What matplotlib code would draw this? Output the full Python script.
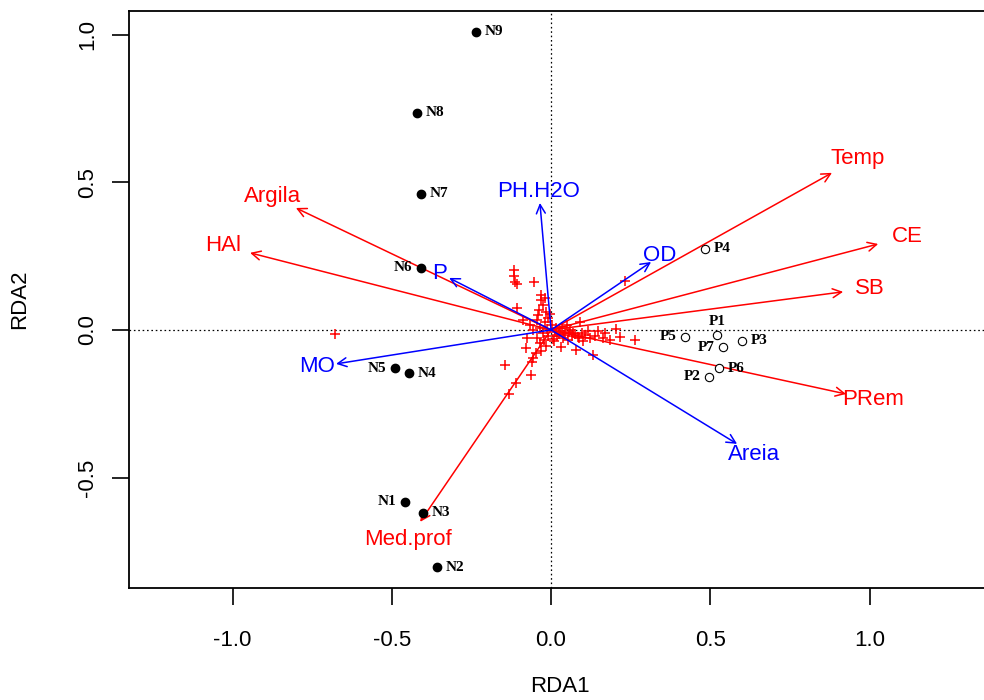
import numpy as np
import matplotlib
matplotlib.use("Agg")
import matplotlib.pyplot as plt

plt.rcParams['font.family'] = ['Liberation Sans', 'DejaVu Sans']

# site scores (RDA1, RDA2)
site_n = ["N1", "N2", "N3", "N4", "N5", "N6", "N7", "N8", "N9"]
site_n_x = [-0.458, -0.358, -0.402, -0.446, -0.490, -0.408, -0.408, -0.421, -0.235]
site_n_y = [-0.582, -0.803, -0.620, -0.146, -0.129, 0.210, 0.461, 0.735, 1.009]

site_p = ["P1", "P2", "P3", "P4", "P5", "P6", "P7"]
site_p_x = [0.521, 0.496, 0.600, 0.484, 0.421, 0.528, 0.540]
site_p_y = [-0.017, -0.159, -0.037, 0.274, -0.024, -0.129, -0.058]

# which side the site label goes on
n_side = ["left", "right", "right", "right", "left", "left", "right", "right", "right"]
p_side = ["above", "left", "right", "right", "left", "right", "left"]

# environmental vectors
env_red = ["Temp", "CE", "SB", "PRem", "Argila", "HAl", "Med.prof"]
env_red_x = [0.882, 1.027, 0.917, 0.926, -0.801, -0.945, -0.411]
env_red_y = [0.532, 0.291, 0.129, -0.217, 0.413, 0.261, -0.650]

env_blue = ["PH.H2O", "OD", "P", "MO", "Areia"]
env_blue_x = [-0.035, 0.314, -0.320, -0.675, 0.584]
env_blue_y = [0.430, 0.230, 0.176, -0.115, -0.386]

# species scores
sp_x = [-0.678, -0.116, -0.116, -0.113, -0.107, -0.053, -0.107, 0.232, -0.144, -0.110,
        -0.132, -0.063, -0.047, -0.057, -0.060, -0.075, -0.078, 0.031, 0.078, 0.132,
        0.204, 0.217, 0.264, 0.170, 0.163, 0.138, 0.091, -0.031, -0.025, -0.038,
        -0.041, -0.019, -0.031, -0.044, -0.088, -0.066, -0.057, -0.035, -0.019, -0.009,
        0.003, 0.016, 0.028, 0.044, 0.060, 0.075, 0.097, 0.116, 0.019, -0.009,
        -0.022, -0.035, -0.044, 0.006, 0.038, 0.053, 0.066, 0.088, 0.100, -0.016,
        -0.003, -0.025, -0.016, -0.031, 0.035, 0.050, 0.122, 0.148, 0.185, 0.012,
        0.024, 0.041, 0.057, 0.069, 0.084, 0.108, -0.012, 0.009]
sp_y = [-0.014, 0.203, 0.183, 0.163, 0.156, 0.163, 0.075, 0.166, -0.119, -0.179,
        -0.217, -0.152, -0.078, -0.095, -0.108, -0.027, -0.061, -0.058, -0.068, -0.085,
        0.003, -0.024, -0.034, -0.010, -0.027, -0.020, 0.027, 0.102, 0.085, 0.068,
        0.051, 0.108, 0.119, 0.034, 0.034, 0.017, 0.000, 0.007, 0.027, 0.041,
        0.017, 0.007, -0.003, -0.010, 0.000, -0.014, -0.010, -0.003, -0.020, -0.020,
        -0.034, -0.044, -0.027, -0.030, -0.027, -0.034, -0.020, -0.027, -0.037, 0.061,
        0.054, -0.010, -0.054, -0.071, 0.010, 0.017, -0.027, -0.003, -0.034, -0.008,
        -0.014, -0.018, -0.006, -0.012, -0.024, -0.016, 0.004, -0.038]

fig = plt.figure(figsize=(9.84, 7.0), dpi=100)
ax = fig.add_axes([0.1311, 0.16, 0.875, 0.8243])

ax.axhline(0, color="black", lw=0.9, ls=(0, (1.3, 2.2)), zorder=1)
ax.axvline(0, color="black", lw=0.9, ls=(0, (1.3, 2.2)), zorder=1)

ax.plot(sp_x, sp_y, ls="none", marker="+", ms=7, mew=1.1, color="red", zorder=2)


def draw_vectors(xs, ys, names, col):
    for x, y, name in zip(xs, ys, names):
        ax.annotate("", xy=(x, y), xytext=(0, 0),
                    arrowprops=dict(arrowstyle="->", color=col, lw=1.1,
                                    shrinkA=0, shrinkB=0, mutation_scale=16),
                    zorder=3)
        ax.text(x * 1.09, y * 1.09, name, color=col, fontsize=16,
                ha="center", va="center", zorder=4)


draw_vectors(env_red_x, env_red_y, env_red, "red")
draw_vectors(env_blue_x, env_blue_y, env_blue, "blue")

ax.plot(site_n_x, site_n_y, ls="none", marker="o", ms=6, color="black", zorder=5)
ax.plot(site_p_x, site_p_y, ls="none", marker="o", ms=6, mfc="white",
        mec="black", mew=0.8, zorder=5)

off = {"left": (-6, 0, "right", "center"), "right": (6, 0, "left", "center"),
       "above": (0, 5, "center", "bottom")}
for names, xs, ys, sides in [(site_n, site_n_x, site_n_y, n_side),
                             (site_p, site_p_x, site_p_y, p_side)]:
    for name, x, y, s in zip(names, xs, ys, sides):
        dx, dy, ha, va = off[s]
        ax.annotate(name, (x, y), xytext=(dx, dy), textcoords="offset points",
                    ha=ha, va=va, fontsize=11, fontweight="bold",
                    family="Liberation Serif", zorder=6)

ax.set_xlim(-1.325, 1.378)
ax.set_ylim(-0.874, 1.080)
ax.set_xticks([-1.0, -0.5, 0.0, 0.5, 1.0])
ax.set_yticks([-0.5, 0.0, 0.5, 1.0])
ax.set_xticklabels(["-1.0", "-0.5", "0.0", "0.5", "1.0"])
ax.set_yticklabels(["-0.5", "0.0", "0.5", "1.0"], rotation=90, va="center")
ax.tick_params(axis="both", direction="out", length=12, width=1.2, labelsize=16)
ax.tick_params(axis="x", pad=18)
ax.tick_params(axis="y", pad=10)
for sp in ax.spines.values():
    sp.set_linewidth(1.3)

ax.set_xlabel("RDA1", fontsize=16, labelpad=18)
ax.set_ylabel("RDA2", fontsize=16, labelpad=34)

fig.savefig("out.png", dpi=100)
